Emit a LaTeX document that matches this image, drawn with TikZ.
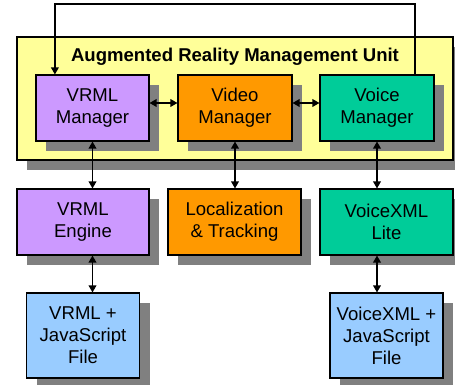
\documentclass[tikz,border=0pt]{standalone}
\usepackage{fontspec}
\setmainfont{Liberation Sans}
\usepackage{tikz}
\usetikzlibrary{arrows.meta,shadows}
\usepackage{xcolor}
\definecolor{arYellow}{HTML}{FFFF99}
\definecolor{arPurple}{HTML}{CC99FF}
\definecolor{arOrange}{HTML}{FF9900}
\definecolor{arGreen}{HTML}{00CC99}
\definecolor{arBlue}{HTML}{99CCFF}
\definecolor{arShadow}{HTML}{808080}

\begin{document}
\begin{tikzpicture}[
    font=\fontsize{13.2}{15.6}\selectfont,
    shadowed/.style={drop shadow={shadow xshift=0.26cm, shadow yshift=-0.26cm, fill=arShadow, opacity=1}},
    module/.style={draw, line width=0.8pt, shadowed, align=center, inner sep=2pt, minimum height=1.65cm},
    filebox/.style={module, fill=arBlue, minimum width=2.84cm, minimum height=2.125cm},
    link/.style={line width=0.9pt, {Triangle[length=5pt,width=5.5pt]}-{Triangle[length=5pt,width=5.5pt]}},
    feed/.style={line width=0.9pt, -{Triangle[length=5pt,width=5.5pt]}}
  ]
  \useasboundingbox (0,0) rectangle (11.375,-9.625);
  % management unit
  \node[draw, line width=0.8pt, fill=arYellow, shadowed, minimum width=10.9cm, minimum height=3.075cm] (unit) at (5.875,-2.4625) {};
  \node[font=\fontsize{13.2}{15.6}\selectfont\bfseries] (unittitle) at (5.875,-1.43) {Augmented Reality Management Unit};
  \node[module, fill=arPurple, minimum width=2.825cm] (vrmlman) at (2.3125,-2.7) {VRML\\Manager};
  \node[module, fill=arOrange, minimum width=2.85cm] (videoman) at (5.875,-2.7) {Video\\Manager};
  \node[module, fill=arGreen, minimum width=2.85cm] (voiceman) at (9.425,-2.7) {Voice\\Manager};
  % engines
  \node[module, fill=arPurple, minimum width=3.3cm] (vrmleng) at (2.075,-5.55) {VRML\\Engine};
  \node[module, fill=arOrange, minimum width=3.325cm] (loctrack) at (5.8625,-5.55) {Localization\\\& Tracking};
  \node[module, fill=arGreen, minimum width=3.325cm] (vxmllite) at (9.6625,-5.55) {VoiceXML\\Lite};
  % files
  \node[filebox] (vrmlfile) at (2.075,-8.3875) {VRML +\\JavaScript\\File};
  \node[filebox, minimum width=2.825cm] (vxmlfile) at (9.6625,-8.3875) {VoiceXML +\\JavaScript\\File};

  \draw[link] ([yshift=0.125cm]vrmlman.east) -- ([yshift=0.125cm]videoman.west);
  \draw[link] ([yshift=0.125cm]videoman.east) -- ([yshift=0.125cm]voiceman.west);
  \draw[link] (vrmlman.south) -- (vrmlman.south |- vrmleng.north);
  \draw[link] (videoman.south) -- (videoman.south |- loctrack.north);
  \draw[link] (voiceman.south) -- (voiceman.south |- vxmllite.north);
  \draw[link] (vrmlman.south |- vrmleng.south) -- (vrmlman.south |- vrmlfile.north);
  \draw[link] (voiceman.south |- vxmllite.south) -- (voiceman.south |- vxmlfile.north);
  \coordinate (looptop) at (5.875,-0.1);
  \draw[feed] ([xshift=0.95cm]voiceman.north) |- (looptop) -| ([xshift=-0.94cm]vrmlman.north);
\end{tikzpicture}
\end{document}
